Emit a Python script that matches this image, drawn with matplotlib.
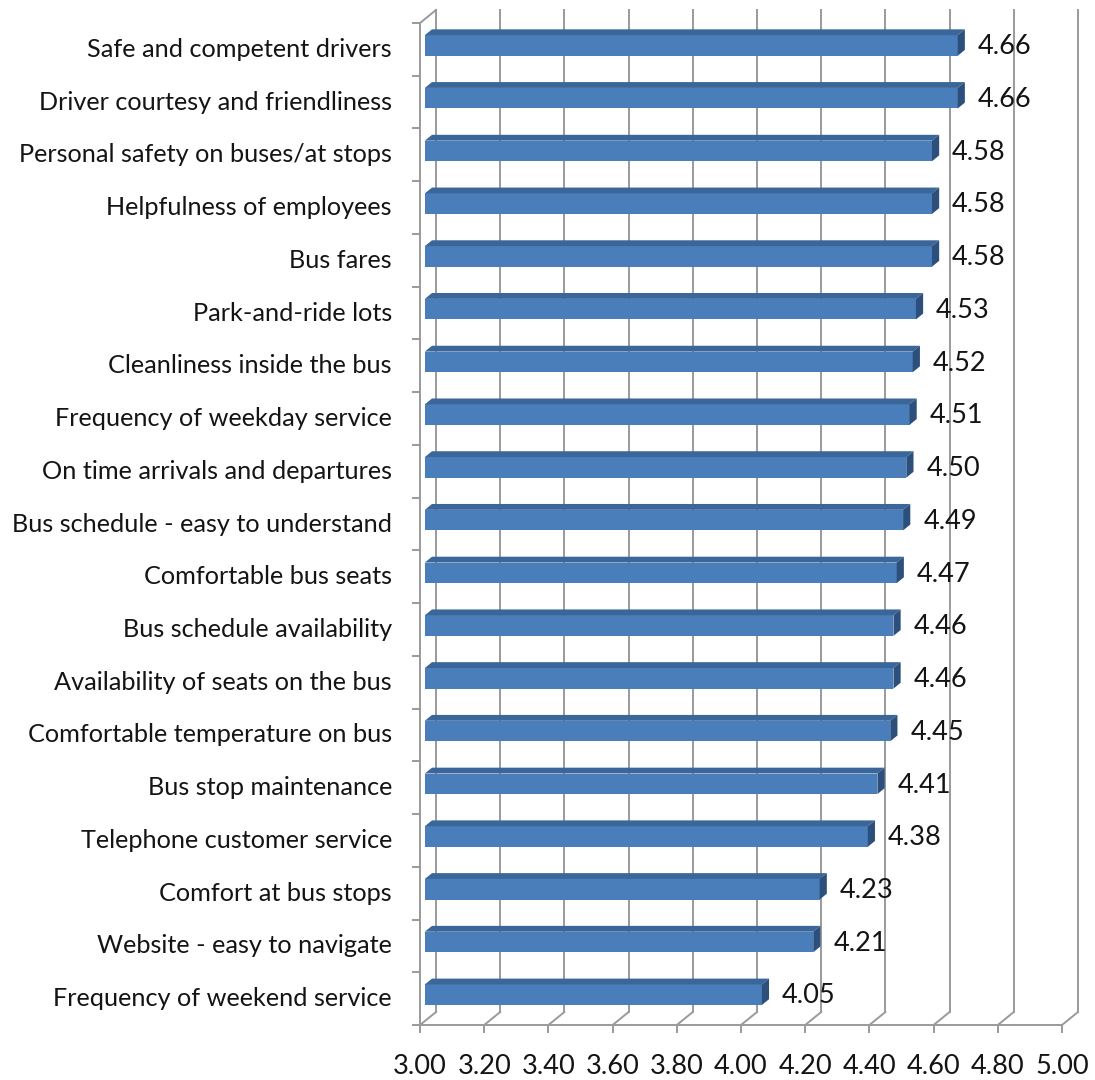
import matplotlib
matplotlib.use("Agg")
import matplotlib.pyplot as plt

categories = [
    "Safe and competent drivers",
    "Driver courtesy and friendliness",
    "Personal safety on buses/at stops",
    "Helpfulness of employees",
    "Bus fares",
    "Park-and-ride lots",
    "Cleanliness inside the bus",
    "Frequency of weekday service",
    "On time arrivals and departures",
    "Bus schedule - easy to understand",
    "Comfortable bus seats",
    "Bus schedule availability",
    "Availability of seats on the bus",
    "Comfortable temperature on bus",
    "Bus stop maintenance",
    "Telephone customer service",
    "Comfort at bus stops",
    "Website - easy to navigate",
    "Frequency of weekend service",
]
values = [4.66, 4.66, 4.58, 4.58, 4.58, 4.53, 4.52, 4.51, 4.50, 4.49,
          4.47, 4.46, 4.46, 4.45, 4.41, 4.38, 4.23, 4.21, 4.05]
xticks = [3.00, 3.20, 3.40, 3.60, 3.80, 4.00, 4.20, 4.40, 4.60, 4.80, 5.00]
xtick_labels = ["%.2f" % t for t in xticks]

plt.rcParams['font.family'] = ['Lato', 'DejaVu Sans']

W, H = 1095, 1080
fig = plt.figure(figsize=(W / 100, H / 100), dpi=100)
px_l, px_r, px_b, px_t = 420, 1062, 1025, 23
ax = fig.add_axes([px_l / W, 1 - px_b / H, (px_r - px_l) / W, (px_b - px_t) / H])
n = len(categories)
xmin, xmax = 3.0, 5.0
ax.set_xlim(xmin, xmax)
ax.set_ylim(-0.5, n - 0.5)
ax.axis('off')

ppx = (px_r - px_l) / (xmax - xmin)   # pixels per x unit
ppy = (px_b - px_t) / n               # pixels per category
DX = 16 / ppx
DY = 13 / ppy

grid_c = '#9A9A9A'
lw = 1.4
ybot, ytop = -0.5, n - 0.5
txt_c = '#141414'

# back wall gridlines, floor diagonals, ticks and labels
for t, lab in zip(xticks, xtick_labels):
    ax.plot([t + DX, t + DX], [ybot + DY, ytop + DY], color=grid_c, lw=lw, clip_on=False, zorder=1)
    ax.plot([t, t + DX], [ybot, ybot + DY], color=grid_c, lw=lw, clip_on=False, zorder=1)
    ax.plot([t, t], [ybot, ybot - 7 / ppy], color=grid_c, lw=lw, clip_on=False, zorder=1)
    ax.text(t, ybot - 42 / ppy, lab, ha='center', va='center', fontsize=19.5, color=txt_c)

# floor front line
ax.plot([xmin, xmax], [ybot, ybot], color=grid_c, lw=lw, clip_on=False, zorder=1)
# left wall front edge and ticks
ax.plot([xmin, xmin], [ybot, ytop], color=grid_c, lw=lw, clip_on=False, zorder=1)
for k in range(n + 1):
    b = ybot + k
    ax.plot([xmin - 7 / ppx, xmin], [b, b], color=grid_c, lw=lw, clip_on=False, zorder=1)
ax.plot([xmin, xmin + DX], [ytop, ytop + DY], color=grid_c, lw=lw, clip_on=False, zorder=1)

# bars
f0, f1 = 0.3, 0.75
h = 0.39
front_c = '#4A7EBB'
top_c = '#3B6699'
side_c = '#2C4F7C'
ypos = [n - 1 - i for i in range(n)]
ax.barh([y + f0 * DY for y in ypos], [v - xmin for v in values], left=xmin + f0 * DX,
        height=h, color=front_c, edgecolor='none', zorder=3, clip_on=False)
for y, v in zip(ypos, values):
    yb, yt = y - h / 2, y + h / 2
    ax.fill([xmin + f0 * DX, v + f0 * DX, v + f1 * DX, xmin + f1 * DX],
            [yt + f0 * DY, yt + f0 * DY, yt + f1 * DY, yt + f1 * DY],
            color=top_c, lw=0, zorder=3, clip_on=False)
    ax.fill([v + f0 * DX, v + f1 * DX, v + f1 * DX, v + f0 * DX],
            [yb + f0 * DY, yb + f1 * DY, yt + f1 * DY, yt + f0 * DY],
            color=side_c, lw=0, zorder=3, clip_on=False)
    ax.text(v + 25 / ppx, y + 0.05, "%.2f" % v, ha='left', va='center', fontsize=19.5,
            color=txt_c, zorder=4)

for y, c in zip(ypos, categories):
    ax.text(xmin - 28 / ppx, y, c, ha='right', va='center', fontsize=18.2, color=txt_c)

fig.savefig("out.png", dpi=100, facecolor='white')
